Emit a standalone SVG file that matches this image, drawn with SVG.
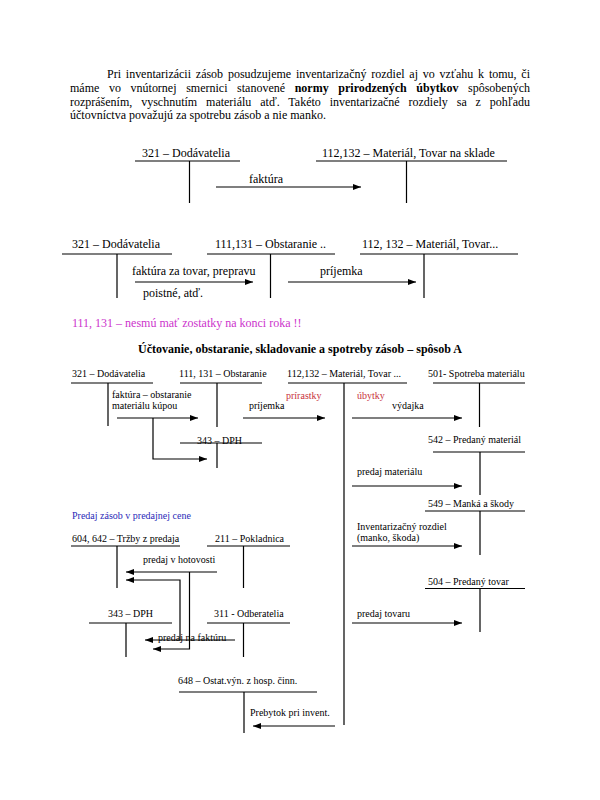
<svg xmlns="http://www.w3.org/2000/svg" width="600" height="800" viewBox="0 0 600 800" font-family="'Liberation Serif', 'Times New Roman', serif">
<style>
text{font-family:"Liberation Serif","Times New Roman",serif;fill:#000}
.p{font-size:12px}
.m{font-size:12px}
.s{font-size:10px}
.ln{stroke:#000;stroke-width:1.2;fill:none}
.ar{stroke:#000;stroke-width:1.2;fill:none;marker-end:url(#ah)}
</style>
<defs>
<marker id="ah" markerUnits="userSpaceOnUse" markerWidth="8" markerHeight="6" refX="8" refY="3" orient="auto">
<path d="M0,0 L8,3 L0,6 z" fill="#000"/>
</marker>
</defs>
<rect width="600" height="800" fill="#fff"/>

<g id="paragraph">
<text class="p" x="107" y="78" word-spacing="1.8" textLength="423" lengthAdjust="spacing">Pri inventarizácii zásob posudzujeme inventarizačný rozdiel aj vo vzťahu k tomu, či</text>
<text class="p" x="70" y="92" word-spacing="6.6" textLength="460" lengthAdjust="spacing">máme vo vnútornej smernici stanovené <tspan font-weight="bold">normy prirodzených úbytkov</tspan> spôsobených</text>
<text class="p" x="70" y="106" word-spacing="5.9" textLength="460" lengthAdjust="spacing">rozprášením, vyschnutím materiálu atď. Takéto inventarizačné rozdiely sa z pohľadu</text>
<text class="p" x="70" y="119">účtovníctva považujú za spotrebu zásob a nie manko.</text>
</g>

<!-- First T-account scheme -->
<g id="t1-321">
<text class="m" x="142" y="157">321 – Dodávatelia</text>
<path class="ln" d="M135 161 H240 M189.5 161 V203"/>
</g>
<g id="t1-112">
<text class="m" x="322" y="157">112,132 – Materiál, Tovar na sklade</text>
<path class="ln" d="M316 161 H507 M406.5 161 V203"/>
</g>

<!-- Second T-account scheme -->
<g id="t2-321">
<text class="m" x="72" y="248">321 – Dodávatelia</text>
<path class="ln" d="M62 254 H172 M117 254 V298"/>
</g>
<g id="t2-111">
<text class="m" x="215" y="248">111,131 – Obstaranie ..</text>
<path class="ln" d="M207 254 H335 M270.5 254 V298"/>
</g>
<g id="t2-112">
<text class="m" x="362" y="248">112, 132 – Materiál, Tovar...</text>
<path class="ln" d="M360 254 H518 M424 254 V298"/>
</g>

<g id="notes">
<text class="m" x="72" y="327" style="fill:#cc33cc">111, 131 – nesmú mať zostatky na konci roka !!</text>
<text x="300" y="353" text-anchor="middle" font-weight="bold" font-size="12">Účtovanie, obstaranie, skladovanie a spotreby zásob – spôsob A</text>
<text class="s" x="72" y="519" style="fill:#2a2ab8">Predaj zásob v predajnej cene</text>
</g>

<!-- Big scheme nodes -->
<g id="a321">
<text class="s" x="72" y="377">321 – Dodávatelia</text>
<path class="ln" d="M71 383 H153 M108 383 V426"/>
</g>
<g id="a111">
<text class="s" x="179" y="377">111, 131 – Obstaranie</text>
<path class="ln" d="M180 383 H262 M217 383 V427"/>
</g>
<g id="a343a">
<text class="s" x="197" y="444">343 – DPH</text>
<path class="ln" d="M180 443 H262 M217 443 V468"/>
</g>
<g id="a112">
<text class="s" x="287" y="377">112,132 – Materiál, Tovar ...</text>
<path class="ln" d="M288 383 H407 M344 383 V725"/>
</g>
<g id="a501">
<text class="s" x="428" y="377">501- Spotreba materiálu</text>
<path class="ln" d="M433 383 H525 M479.5 383 V427"/>
</g>
<g id="a542">
<text class="s" x="428" y="443">542 – Predaný materiál</text>
<path class="ln" d="M433 452 H525 M480 452 V495"/>
</g>
<g id="a549">
<text class="s" x="428" y="507">549 – Manká a škody</text>
<path class="ln" d="M425 511 H525 M480 511 V555"/>
</g>
<g id="a504">
<text class="s" x="428" y="585">504 – Predaný tovar</text>
<path class="ln" d="M425 588.5 H525 M480 588.5 V632"/>
</g>
<g id="a604">
<text class="s" x="72" y="542">604, 642 – Tržby z predaja</text>
<path class="ln" d="M71 546 H180 M117 546 V588"/>
</g>
<g id="a211">
<text class="s" x="215" y="542">211 – Pokladnica</text>
<path class="ln" d="M207 546 H290 M243.5 546 V588"/>
</g>
<g id="a343b">
<text class="s" x="108" y="617">343 – DPH</text>
<path class="ln" d="M89 623 H172 M126 623 V657"/>
</g>
<g id="a311">
<text class="s" x="214" y="617">311 -  Odberatelia</text>
<path class="ln" d="M207 623 H290 M243.5 623 V657"/>
</g>
<g id="a648">
<text class="s" x="178" y="684">648 – Ostat.výn. z hosp. činn.</text>
<path class="ln" d="M179 692 H317 M244 692 V733"/>
</g>

<!-- Connectors -->
<g id="connectors">
<path class="ar" d="M216 187 H361"/>
<path class="ar" d="M135 282 H253"/>
<path class="ar" d="M288 282 H416"/>
<path class="ar" d="M117 418 H198"/>
<path class="ar" d="M153 418 V459 H207"/>
<path class="ar" d="M243 418 H325"/>
<path class="ar" d="M352 418 H462"/>
<path class="ar" d="M352 486 H462"/>
<path class="ar" d="M352 546 H462"/>
<path class="ar" d="M352 623 H462"/>
<path class="ar" d="M217 572 H126"/>
<path class="ar" d="M189.5 572 V649 H153"/>
<path class="ar" d="M235 640 H145"/>
<path class="ar" d="M180 640 V580 H126"/>
<path class="ar" d="M335 726 H253"/>
</g>

<!-- Connector labels -->
<g id="labels">
<text class="m" x="249" y="183">faktúra</text>
<text class="m" x="132" y="275">faktúra za tovar, prepravu</text>
<text class="m" x="143" y="297">poistné, atď.</text>
<text class="m" x="320" y="275">príjemka</text>
<text class="s" x="112" y="398">faktúra – obstaranie</text>
<text class="s" x="112" y="409">materiálu kúpou</text>
<text class="s" x="286" y="399" style="fill:#c8323c">prírastky</text>
<text class="s" x="357" y="399" style="fill:#c8323c">úbytky</text>
<text class="s" x="249" y="409">príjemka</text>
<text class="s" x="392" y="409">výdajka</text>
<text class="s" x="357" y="475">predaj materiálu</text>
<text class="s" x="357" y="530">Inventarizačný rozdiel</text>
<text class="s" x="357" y="541">(manko, škoda)</text>
<text class="s" x="357" y="617">predaj tovaru</text>
<text class="s" x="143" y="563">predaj v hotovosti</text>
<text class="s" x="158" y="641">predaj na faktúru</text>
<text class="s" x="250" y="716">Prebytok pri invent.</text>
</g>
</svg>
